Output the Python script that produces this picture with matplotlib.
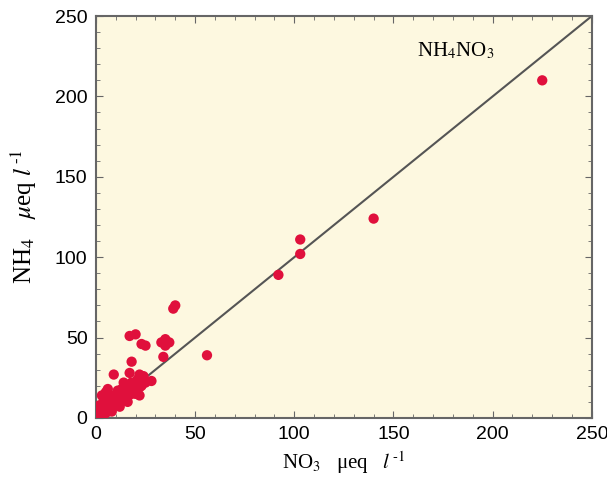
import matplotlib
matplotlib.use("Agg")
import matplotlib.pyplot as plt
from matplotlib.ticker import MultipleLocator

plt.rcParams['mathtext.fontset'] = 'stix'

# Data (NO3 vs NH4, μeq/l)
no3 = [225, 140, 103, 103, 92, 56, 40, 39, 35, 33, 37, 35, 34, 20, 17, 23, 25,
       18, 9, 17, 22, 28, 21, 14, 11, 5, 22, 20, 15,
       1, 2, 3, 3, 4, 5, 5, 6, 6, 7, 7, 8, 8, 9, 10, 10, 11, 12, 12, 13, 13,
       14, 15, 16, 16, 17, 18, 18, 19, 20, 21, 22, 23, 24, 2, 4, 3, 6, 1, 25,
       8, 12, 16]
nh4 = [210, 124, 111, 102, 89, 39, 70, 68, 49, 47, 47, 45, 38, 52, 51, 46, 45,
       35, 27, 28, 27, 23, 24, 22, 17, 16, 19, 15, 18,
       1, 3, 2, 6, 4, 7, 3, 9, 5, 8, 12, 6, 10, 14, 8, 12, 10, 15, 9, 18, 12,
       11, 14, 20, 13, 17, 22, 15, 20, 18, 22, 14, 20, 26, 8, 12, 14, 18, 5, 22,
       4, 7, 10]
line_x = [0, 250]
line_y = [0, 250]

fig = plt.figure(figsize=(6.07, 4.86), dpi=100)
ax = fig.add_axes([0.158, 0.140, 0.817, 0.827])
ax.set_facecolor('#fdf8e0')

ax.plot(line_x, line_y, color='#555555', lw=1.5, zorder=2)
ax.scatter(no3, nh4, s=55, color='#e0103c', edgecolors='none', zorder=3)

ax.set_xlim(0, 250)
ax.set_ylim(0, 250)
ax.xaxis.set_major_locator(MultipleLocator(50))
ax.yaxis.set_major_locator(MultipleLocator(50))
ax.xaxis.set_minor_locator(MultipleLocator(10))
ax.yaxis.set_minor_locator(MultipleLocator(10))
ax.tick_params(which='both', direction='in', top=True, right=True,
               color='#666666')
ax.tick_params(which='major', length=5, labelsize=14, pad=6)
ax.tick_params(which='minor', length=3)
for lab in ax.get_xticklabels() + ax.get_yticklabels():
    lab.set_fontfamily('Liberation Sans')
for s in ax.spines.values():
    s.set_color('#666666')
    s.set_linewidth(1.5)

ax.set_xlabel(r'NO$_3$   μeq   $l^{\,\text{-}1}$', fontsize=15,
              fontfamily='Liberation Serif', labelpad=4)
ax.set_ylabel(r'NH$_4$   $\mathit{\mu}$eq $l^{\,\text{-}1}$', fontsize=18,
              fontfamily='Liberation Serif')
ax.yaxis.set_label_coords(-0.115, 0.5)

ax.text(0.648, 0.9, r'NH$_4$NO$_3$', transform=ax.transAxes, fontsize=15,
        fontfamily='Liberation Serif')

fig.savefig('out.png', dpi=100)
